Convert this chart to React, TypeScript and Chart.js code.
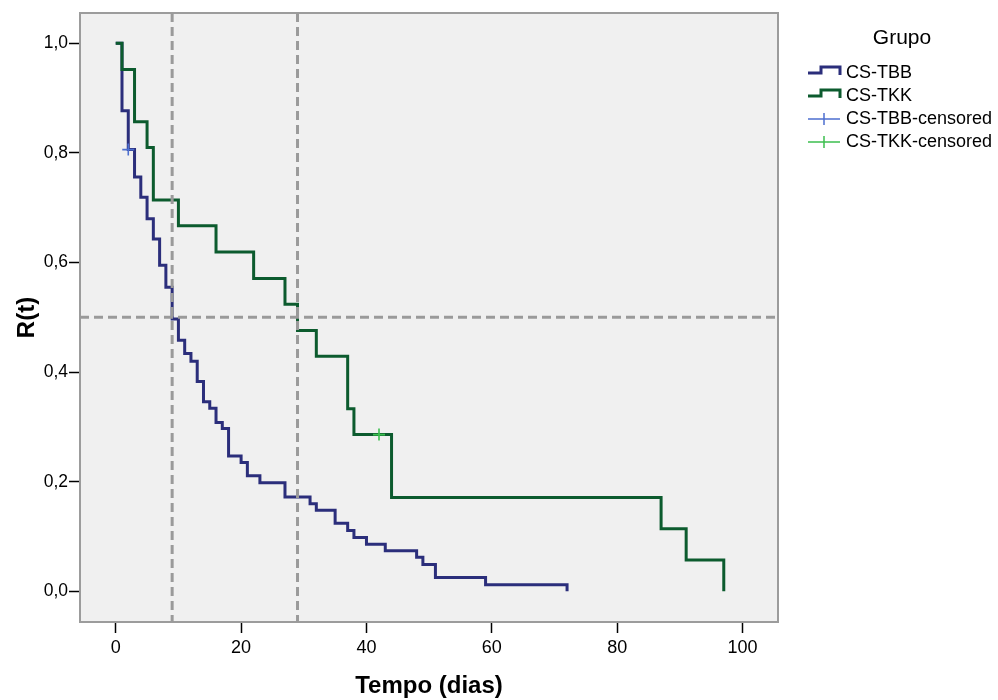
import React, { useEffect, useRef } from "react";
import { Chart, registerables } from "chart.js";

Chart.register(...registerables);

// ---- Data (Kaplan-Meier steps) ----
const tbbTimes = [0, 1, 2, 3, 4, 5, 6, 7, 8, 9, 10, 11, 12, 13, 14, 15, 16, 17, 18, 20, 21, 23, 27, 31, 32, 35, 37, 38, 40, 43, 48, 49, 51, 59, 72];
const tbbSurv = [1.0, 0.877, 0.806, 0.756, 0.719, 0.68, 0.643, 0.595, 0.555, 0.497, 0.458, 0.434, 0.42, 0.383, 0.346, 0.334, 0.308, 0.297, 0.247, 0.235, 0.211, 0.198, 0.172, 0.16, 0.148, 0.124, 0.111, 0.098, 0.086, 0.074, 0.062, 0.049, 0.025, 0.012, 0.0];

const tkkTimes = [0, 1, 3, 5, 6, 10, 16, 22, 27, 29, 32, 37, 38, 44, 87, 91, 97];
const tkkSurv = [1.0, 0.952, 0.857, 0.81, 0.714, 0.667, 0.619, 0.571, 0.524, 0.476, 0.429, 0.333, 0.286, 0.171, 0.114, 0.057, 0.0];

const tbbCensorTimes = [2];
const tbbCensorSurv = [0.806];
const tkkCensorTimes = [42];
const tkkCensorSurv = [0.286];

const xTicks = [0, 20, 40, 60, 80, 100];
const yTicks = [0, 0.2, 0.4, 0.6, 0.8, 1.0];
const medianTimes = [9, 29];
const refSurv = 0.5;

const legendTitle = "Grupo";
const legendLabels = ["CS-TBB", "CS-TKK", "CS-TBB-censored", "CS-TKK-censored"];
const xTitle = "Tempo (dias)";
const yTitle = "R(t)";

const BLUE = "#2b2e7b";
const GREEN = "#0c5b2e";
const BLUE_C = "#4d6fcf";
const GREEN_C = "#3cbf4f";
const FONT = "'Liberation Sans', Arial, sans-serif";

const pts = (xs: number[], ys: number[]) => xs.map((x, i) => ({ x, y: ys[i] }));

const decorPlugin = {
  id: "decor",
  beforeDraw(chart: any) {
    const { ctx, chartArea: a } = chart;
    ctx.save();
    ctx.fillStyle = "#ffffff";
    ctx.fillRect(0, 0, chart.width, chart.height);
    ctx.fillStyle = "#f0f0f0";
    ctx.fillRect(a.left, a.top, a.right - a.left, a.bottom - a.top);
    ctx.restore();
  },
  beforeDatasetsDraw(chart: any) {
    const { ctx, chartArea: a } = chart;
    ctx.save();
    ctx.strokeStyle = "#9c9c9c";
    ctx.lineWidth = 2;
    ctx.strokeRect(a.left, a.top, a.right - a.left, a.bottom - a.top);
    ctx.restore();
  },
  afterDatasetsDraw(chart: any) {
    const { ctx, chartArea: a, scales } = chart;
    ctx.save();
    ctx.beginPath();
    ctx.rect(a.left, a.top, a.right - a.left, a.bottom - a.top);
    ctx.clip();
    ctx.strokeStyle = "#9a9a9a";
    ctx.lineWidth = 3;
    ctx.setLineDash([9, 5]);
    const yp = scales.y.getPixelForValue(refSurv);
    ctx.beginPath();
    ctx.moveTo(a.left, yp);
    ctx.lineTo(a.right, yp);
    ctx.stroke();
    medianTimes.forEach((t) => {
      const xp = scales.x.getPixelForValue(t);
      ctx.beginPath();
      ctx.moveTo(xp, a.top);
      ctx.lineTo(xp, a.bottom);
      ctx.stroke();
    });
    ctx.restore();
  },
  afterDraw(chart: any) {
    const { ctx, chartArea: a } = chart;
    ctx.save();
    // Axis titles
    ctx.fillStyle = "#000";
    ctx.font = `bold 24px ${FONT}`;
    ctx.textAlign = "center";
    ctx.textBaseline = "middle";
    ctx.fillText(xTitle, (a.left + a.right) / 2, 686);
    ctx.save();
    ctx.translate(27, (a.top + a.bottom) / 2);
    ctx.rotate(-Math.PI / 2);
    ctx.fillText(yTitle, 0, 0);
    ctx.restore();

    // Legend
    ctx.font = `21px ${FONT}`;
    ctx.textAlign = "center";
    ctx.fillText(legendTitle, 902, 38);
    ctx.font = `18px ${FONT}`;
    ctx.textAlign = "left";
    const rows = [73, 96, 119, 142];
    const colors = [BLUE, GREEN, BLUE_C, GREEN_C];
    rows.forEach((y, i) => {
      ctx.strokeStyle = colors[i];
      if (i < 2) {
        ctx.lineWidth = 3;
        ctx.beginPath();
        ctx.moveTo(808, y);
        ctx.lineTo(821, y);
        ctx.lineTo(821, y - 6);
        ctx.lineTo(840, y - 6);
        ctx.lineTo(840, y + 2);
        ctx.stroke();
      } else {
        ctx.lineWidth = 1.5;
        ctx.beginPath();
        ctx.moveTo(808, y);
        ctx.lineTo(840, y);
        ctx.moveTo(824, y - 6);
        ctx.lineTo(824, y + 6);
        ctx.stroke();
      }
      ctx.fillStyle = "#000";
      ctx.textBaseline = "middle";
      ctx.fillText(legendLabels[i], 846, y);
    });
    ctx.restore();
  },
};

export default function App() {
  const ref = useRef<HTMLCanvasElement>(null);
  useEffect(() => {
    if (!ref.current) return;
    const chart = new Chart(ref.current, {
      type: "line",
      data: {
        datasets: [
          {
            label: "CS-TBB-censored",
            data: pts(tbbCensorTimes, tbbCensorSurv),
            showLine: false,
            pointStyle: "cross",
            pointRadius: 6,
            borderColor: BLUE_C,
            borderWidth: 1.6,
            order: 0,
          },
          {
            label: "CS-TKK-censored",
            data: pts(tkkCensorTimes, tkkCensorSurv),
            showLine: false,
            pointStyle: "cross",
            pointRadius: 6,
            borderColor: GREEN_C,
            borderWidth: 1.6,
            order: 0,
          },
          {
            label: "CS-TKK",
            data: pts(tkkTimes, tkkSurv),
            stepped: "before",
            borderColor: GREEN,
            borderWidth: 3,
            pointRadius: 0,
            fill: false,
            order: 1,
          },
          {
            label: "CS-TBB",
            data: pts(tbbTimes, tbbSurv),
            stepped: "before",
            borderColor: BLUE,
            borderWidth: 3,
            pointRadius: 0,
            fill: false,
            order: 2,
          },
        ],
      },
      options: {
        responsive: false,
        animation: false,
        events: [],
        layout: { padding: { top: 13, right: 220, left: 0, bottom: 0 } },
        plugins: { legend: { display: false }, tooltip: { enabled: false } },
        scales: {
          x: {
            type: "linear",
            min: -5.7,
            max: 105.65,
            afterBuildTicks: (s: any) => {
              s.ticks = xTicks.map((v) => ({ value: v }));
            },
            afterFit: (s: any) => {
              s.height = 78;
            },
            grid: { drawOnChartArea: false, tickLength: 11, color: "#000", tickWidth: 1.5 },
            border: { display: false },
            ticks: {
              color: "#000",
              padding: 4,
              maxRotation: 0,
              font: { family: FONT, size: 18 },
              callback: (v: any) => String(v),
            },
          },
          y: {
            type: "linear",
            min: -0.056,
            max: 1.0553,
            afterBuildTicks: (s: any) => {
              s.ticks = yTicks.map((v) => ({ value: v }));
            },
            afterFit: (s: any) => {
              s.width = 80;
            },
            grid: { drawOnChartArea: false, tickLength: 11, color: "#000", tickWidth: 1.5 },
            border: { display: false },
            ticks: {
              color: "#000",
              padding: 1,
              font: { family: FONT, size: 17.5 },
              callback: (v: any) => Number(v).toFixed(1).replace(".", ","),
            },
          },
        },
      },
      plugins: [decorPlugin],
    } as any);
    return () => chart.destroy();
  }, []);
  return (
    <div style={{ position: "fixed", left: 0, top: 0, width: 998, height: 700, background: "#fff" }}>
      <canvas ref={ref} width={998} height={700} style={{ display: "block", width: 998, height: 700 }} />
    </div>
  );
}
